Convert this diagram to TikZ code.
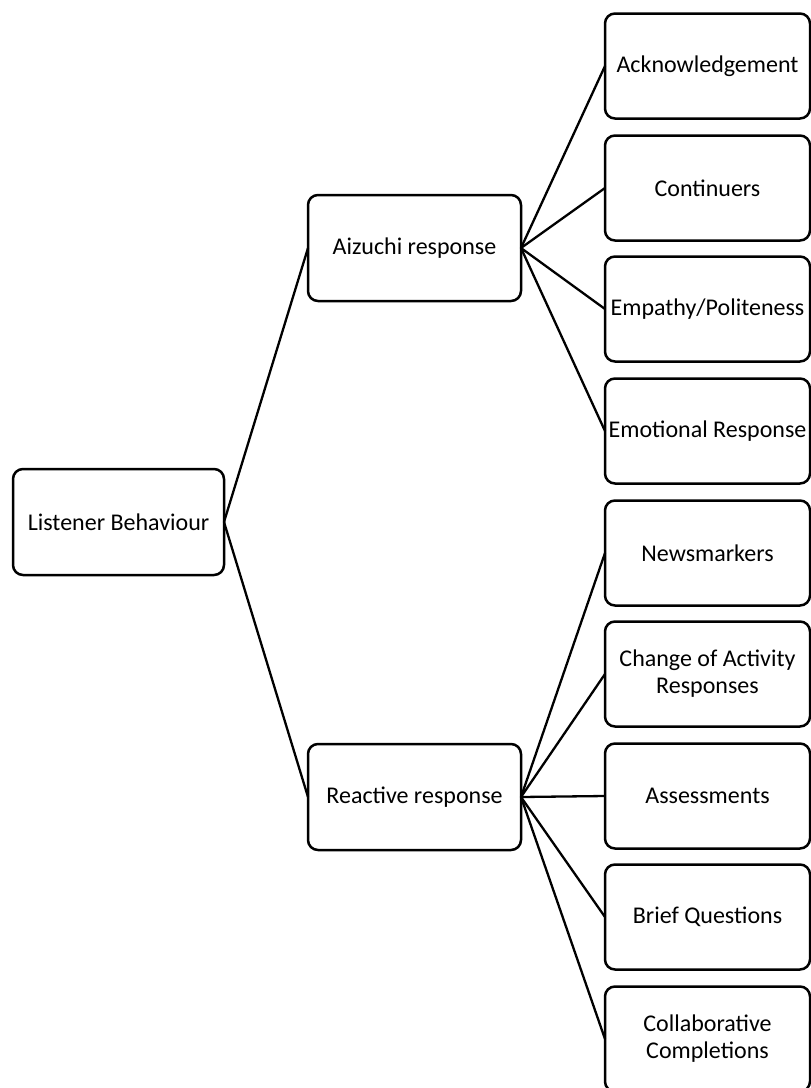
\documentclass[tikz,border=0pt]{standalone}
\usepackage{fontspec}
\setmainfont{Carlito}
\begin{document}
\begin{tikzpicture}[x=1pt,y=-1pt,
  box/.style={draw=black,line width=2.5pt,rounded corners=10pt,fill=white,
    align=center,inner sep=2pt,outer sep=0pt,font=\fontsize{24}{27}\selectfont},
  mid/.style={box,minimum width=213pt,minimum height=106pt},
  leaf/.style={box,minimum width=205pt,minimum height=105pt},
  conn/.style={line width=2.3pt,black}]
\useasboundingbox (0,0) rectangle (811,1088);
\node[box,minimum width=211pt,minimum height=106pt] (root) at (118.5,522) {Listener Behaviour};
\node[mid] (aiz) at (414.5,248) {Aizuchi response};
\node[mid] (rea) at (414.5,797) {Reactive response};
\node[leaf] (l1) at (707.5,66) {Acknowledgement};
\node[leaf] (l2) at (707.5,188) {Continuers};
\node[leaf] (l3) at (707.5,309) {Empathy/Politeness};
\node[leaf] (l4) at (707.5,431) {Emotional Response};
\node[leaf] (l5) at (707.5,553) {Newsmarkers};
\node[leaf] (l6) at (707.5,674) {Change of Activity\\Responses};
\node[leaf] (l7) at (707.5,796) {Assessments};
\node[leaf] (l8) at (707.5,917) {Brief Questions};
\node[leaf] (l9) at (707.5,1039) {Collaborative\\Completions};
\draw[conn] (root.east) -- (aiz.west);
\draw[conn] (root.east) -- (rea.west);
\foreach \n in {l1,l2,l3,l4} \draw[conn] (aiz.east) -- (\n.west);
\foreach \n in {l5,l6,l7,l8,l9} \draw[conn] (rea.east) -- (\n.west);
\end{tikzpicture}
\end{document}
